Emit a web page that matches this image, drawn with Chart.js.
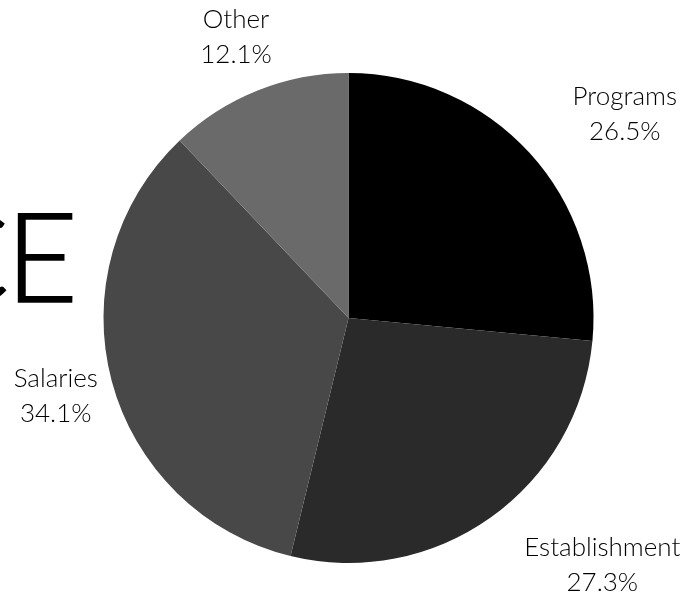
<!DOCTYPE html>
<html>
<head>
<meta charset="utf-8">
<script src="https://cdn.jsdelivr.net/npm/chart.js@4/dist/chart.umd.min.js"></script>
<style>
  html, body { margin: 0; padding: 0; background: #fff; overflow: hidden; }
  #wrap { position: relative; width: 699px; height: 594px; }
  #bg { position: absolute; right: calc(100% - 78px); top: 192px; font-family: Lato, sans-serif; font-weight: 300; font-size: 125px; line-height: 1; color: #000; white-space: nowrap; z-index: 0; -webkit-text-stroke: 1.5px #000; }
  #bg span { margin-right: -4px; }
  #c { position: absolute; left: 0; top: 0; z-index: 1; }
</style>
</head>
<body>
<div id="wrap">
  <div id="bg"><span>C</span>E</div>
  <canvas id="c" width="699" height="594"></canvas>
</div>
<script>
const categories = ["Programs", "Establishment", "Salaries", "Other"];
const shares = [26.5, 27.3, 34.1, 12.1];
const sliceColors = ["#000000", "#2a2a2a", "#484848", "#6a6a6a"];

const outLabels = {
  id: 'outLabels',
  afterDatasetsDraw(chart) {
    const ctx = chart.ctx;
    const meta = chart.getDatasetMeta(0);
    const data = chart.data.datasets[0].data;
    const total = data.reduce((a, b) => a + b, 0);
    ctx.save();
    ctx.font = '300 26px Lato, sans-serif';
    ctx.fillStyle = '#000';
    ctx.textAlign = 'center';
    ctx.textBaseline = 'middle';
    const lineH = 35;
    meta.data.forEach((arc, i) => {
      const p = arc.getProps(['x', 'y', 'startAngle', 'endAngle', 'outerRadius'], true);
      const mid = (p.startAngle + p.endAngle) / 2;
      const rr = p.outerRadius + 58;
      const px = p.x + Math.cos(mid) * rr;
      const py = p.y + Math.sin(mid) * rr;
      const lines = [chart.data.labels[i], (data[i] / total * 100).toFixed(1) + '%'];
      const w = Math.max(...lines.map(l => ctx.measureText(l).width));
      const cx = px > p.x ? px + w / 2 : px;
      lines.forEach((l, j) => {
        ctx.fillText(l, cx, py + (j - (lines.length - 1) / 2) * lineH);
      });
    });
    ctx.restore();
  }
};

new Chart(document.getElementById('c'), {
  type: 'pie',
  data: {
    labels: categories,
    datasets: [{
      data: shares,
      backgroundColor: sliceColors,
      borderWidth: 0
    }]
  },
  options: {
    responsive: false,
    animation: false,
    layout: { padding: { top: 73, bottom: 31, left: 103, right: 105 } },
    plugins: { legend: { display: false }, tooltip: { enabled: false } }
  },
  plugins: [outLabels]
});
</script>
</body>
</html>
